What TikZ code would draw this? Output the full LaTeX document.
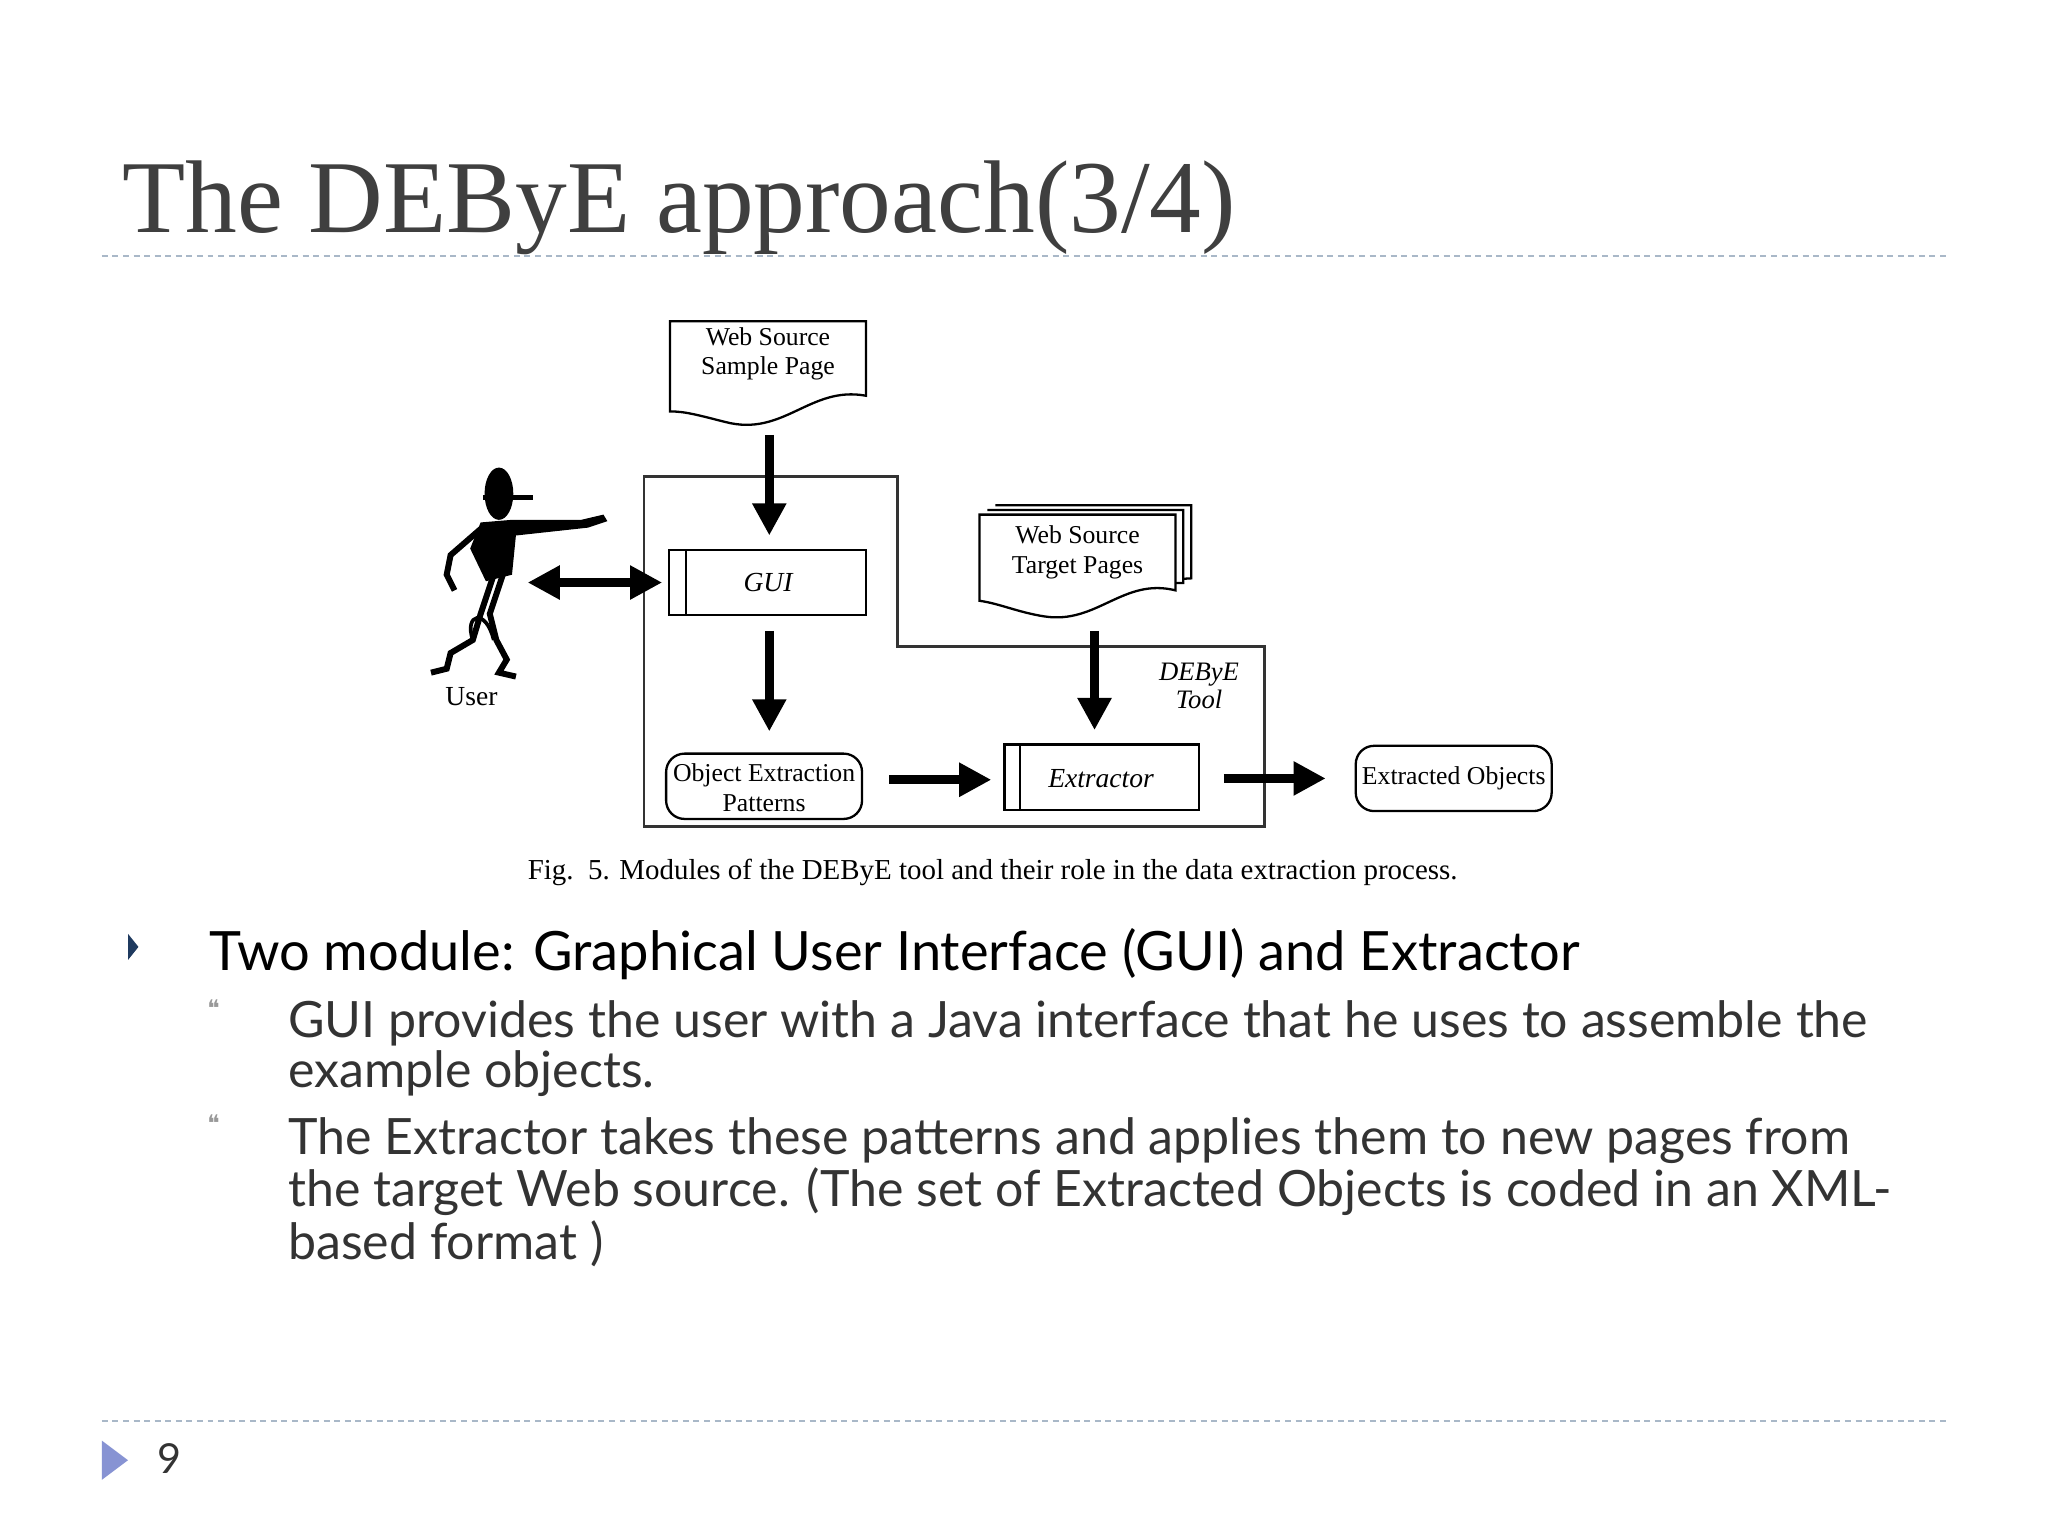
\documentclass[tikz,border=0pt]{standalone}
\usepackage{fontspec}
\setmainfont{Liberation Serif}
\newfontfamily\bodyfont{Lato}
\newfontfamily\ttl{Liberation Serif}
\newfontfamily\qfont{DejaVu Sans}
\usetikzlibrary{arrows.meta,shapes.geometric}
\definecolor{ttlc}{HTML}{3F3F3F}
\definecolor{dashc}{HTML}{A9B8C8}
\definecolor{bulc}{HTML}{1F3A5F}
\definecolor{txtc}{HTML}{333333}
\begin{document}
\begin{tikzpicture}[x=0.01cm,y=-0.01cm,
  thick arrow/.style={line width=2pt,-{Triangle[width=7pt,length=7pt]}},
  dbl arrow/.style={line width=2pt,{Triangle[width=7pt,length=7pt]}-{Triangle[width=7pt,length=7pt]}},
  dtext/.style={font=\fontsize{5.6}{6.4}\selectfont,align=center},
  sepline/.style={dashc,line width=0.4pt,dash pattern=on 1.3pt off 1pt}]
\useasboundingbox (0,0) rectangle (1568,1176);
\fill[white!96!blue!2] (0,0) rectangle (1568,1176);
% title
\node[anchor=base west,inner sep=0,text=ttlc,font=\ttl\fontsize{22.5}{26}\selectfont] (title) at (93,178) {The DEByE approach(3/4)};
\draw[sepline] (78,196) -- (1490,196);
\draw[sepline] (78,1088) -- (1490,1088);
\fill[dashc!80!blue] (78,1103) -- (98,1118) -- (78,1133) -- cycle;
\node[anchor=base west,inner sep=0,font=\bodyfont\fontsize{9}{10}\selectfont,text=txtc] (pg) at (120,1128) {9};
% diagram
\draw[line width=0.6pt,draw=black!80] (493,365) -- (687,365) -- (687,495) -- (968,495) -- (968,633) -- (493,633) -- cycle;
\draw[line width=0.5pt,fill=white] (513,246) -- (663,246) -- (663,303) .. controls (620,295) and (600,335) .. (555,323) .. controls (535,318) and (525,315) .. (513,315) -- cycle;
\node[dtext] (wsp) at (588,271) {Web Source\\Sample Page};
\foreach \d in {12,6}{
\draw[line width=0.5pt,fill=white] (750+\d,394-\d*0.6) -- (900+\d,394-\d*0.6) -- (900+\d,450-\d*0.6) .. controls (860,445) and (840,475) .. (800,470) .. controls (780,467) and (765,460) .. (750+\d,458-\d*0.6);}
\draw[line width=0.5pt,fill=white] (750,394) -- (900,394) -- (900,452) .. controls (860,442) and (840,478) .. (800,472) .. controls (780,469) and (765,462) .. (750,460) -- cycle;
\node[dtext] (wtp) at (825,423) {Web Source\\Target Pages};
\draw[line width=0.5pt] (512,421) rectangle (663,471); \draw[line width=0.5pt] (525,421) -- (525,471);
\node[dtext,font=\itshape\fontsize{6}{7}\selectfont] (gui) at (588,446) {GUI};
\draw[line width=0.5pt,rounded corners=4pt] (510,577) rectangle (660,627);
\node[dtext] (oep) at (585,603) {Object Extraction\\Patterns};
\draw[line width=0.5pt] (769,570) rectangle (918,620); \draw[line width=0.5pt] (781,570) -- (781,620);
\node[dtext,font=\itshape\fontsize{6}{7}\selectfont] (ext) at (843,596) {Extractor};
\draw[line width=0.5pt,rounded corners=4pt] (1038,571) rectangle (1188,621);
\node[dtext] (eo) at (1113,596) {Extracted Objects};
\node[dtext,font=\itshape\fontsize{5.8}{6.2}\selectfont] (tool) at (918,525) {DEByE\\Tool};
\coordinate (a1) at (589,333); \coordinate (a2) at (589,410);
\coordinate (b1) at (589,483); \coordinate (b2) at (589,560);
\coordinate (c1) at (681,597); \coordinate (c2) at (759,597);
\coordinate (d1) at (937,596); \coordinate (d2) at (1015,596);
\coordinate (e1) at (838,483); \coordinate (e2) at (838,559);
\coordinate (f1) at (404,446); \coordinate (f2) at (507,446);
\draw[thick arrow] (a1) -- (a2);
\draw[thick arrow] (b1) -- (b2);
\draw[thick arrow] (c1) -- (c2);
\draw[thick arrow] (d1) -- (d2);
\draw[thick arrow] (e1) -- (e2);
\draw[dbl arrow] (f1) -- (f2);
% user figure
\fill (382,378) ellipse (11 and 20);
\draw[line width=1pt] (370,381) -- (408,381);
\fill (368,400) -- (392,398) -- (445,398) -- (462,394) -- (465,399) -- (450,404) -- (395,410) -- (392,440) -- (372,445) -- (360,420) -- cycle;
\draw[line width=1.3pt] (368,405) -- (345,425) -- (342,440) -- (348,452);
\draw[line width=1.3pt] (378,440) -- (368,470) -- (362,490) -- (345,500) -- (342,512) -- (330,515);
\draw[line width=1.3pt] (385,440) -- (375,470) -- (380,490) -- (388,505) -- (382,515) -- (395,518);
\draw[line width=0.8pt] (362,490) .. controls (355,470) and (372,465) .. (378,490);
\node[dtext,font=\fontsize{6}{7}\selectfont] (user) at (361,533) {User};
\node[dtext,font=\fontsize{6.3}{7}\selectfont] (cap) at (760,668) {Fig.\ \ 5. Modules of the DEByE tool and their role in the data extraction process.};
% text
\fill[bulc] (98,715) -- (106,725) -- (98,735) -- cycle;
\node[anchor=base west,inner sep=0,font=\bodyfont\fontsize{11.8}{14}\selectfont] (t1) at (160,743) {Two module: Graphical User Interface (GUI) and Extractor};
\begin{scope}[every node/.style={anchor=base west,inner sep=0,text=txtc,font=\bodyfont\fontsize{10.9}{11.4}\selectfont}]
\node[font=\qfont\fontsize{5}{6}\selectfont,text=black!40] (q1) at (158,778) {❝};
\node[font=\qfont\fontsize{5}{6}\selectfont,text=black!40] (q2) at (158,866) {❝};
\node (s1) at (220,794) {GUI provides the user with a Java interface that he uses to assemble the};
\node (s1b) at (220,833) {example objects.};
\node (s2) at (220,884) {The Extractor takes these patterns and applies them to new pages from};
\node (s2b) at (220,924) {the target Web source. (The set of Extracted Objects is coded in an XML-};
\node (s2c) at (220,964) {based format )};
\end{scope}
\end{tikzpicture}
\end{document}
